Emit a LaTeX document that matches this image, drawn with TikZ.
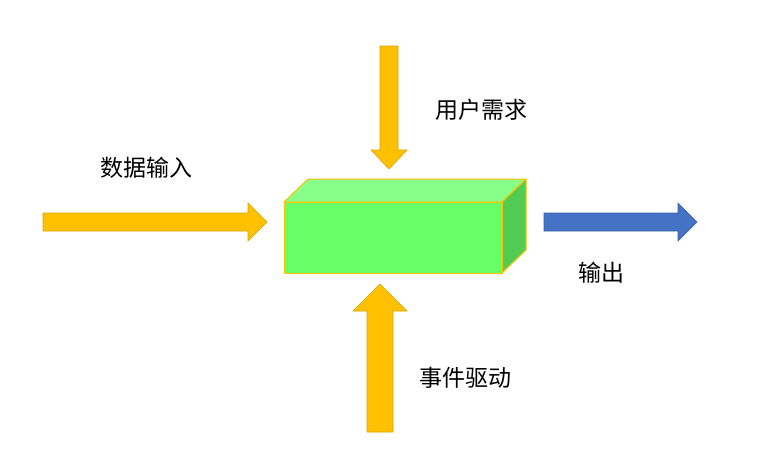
\documentclass[tikz,border=0pt]{standalone}
\usepackage{fontspec}
\newfontfamily\cjk{Noto Sans CJK SC}
\definecolor{arrowfill}{HTML}{FFC000}
\definecolor{arrowedge}{HTML}{D9A400}
\definecolor{bluefill}{HTML}{4472C4}
\definecolor{blueedge}{HTML}{3A62A8}
\definecolor{frontc}{HTML}{66FF66}
\definecolor{topc}{HTML}{88FF88}
\definecolor{sidec}{HTML}{52CC52}
\definecolor{boxedge}{HTML}{FFC000}
\begin{document}
\begin{tikzpicture}[x=1pt,y=-1pt,
  blockarrow/.style={fill=arrowfill,draw=arrowedge,line width=0.6pt,line join=miter},
  bluearrow/.style={fill=bluefill,draw=blueedge,line width=0.6pt,line join=miter},
  face/.style={draw=boxedge,line width=1pt,line join=round},
  lbl/.style={font=\cjk\fontsize{23}{27}\selectfont,text=black,inner sep=0pt}]
\useasboundingbox (0,0) rectangle (779,455);
% box
\fill[white] (0,0) rectangle (779,455);
\draw[face,fill=topc] (284,202) -- (308,179) -- (526,179) -- (502,202) -- cycle;
\draw[face,fill=sidec] (502,202) -- (526,179) -- (526,250) -- (502,273) -- cycle;
\draw[face,fill=frontc] (284,202) rectangle (502,273);
% left arrow
\draw[blockarrow] (43,213) -- (248,213) -- (248,203) -- (267,222) -- (248,241) -- (248,231) -- (43,231) -- cycle;
% top arrow
\draw[blockarrow] (380,46) -- (398,46) -- (398,150) -- (407,150) -- (389,169) -- (371,150) -- (380,150) -- cycle;
% bottom arrow
\draw[blockarrow] (367,432) -- (393,432) -- (393,311) -- (407,311) -- (380,284) -- (353,311) -- (367,311) -- cycle;
% output arrow
\draw[bluearrow] (544,213) -- (678,213) -- (678,203) -- (697,222) -- (678,241) -- (678,231) -- (544,231) -- cycle;
% labels
\node[lbl] (data) at (146,168) {数据输入};
\node[lbl] (need) at (481,110) {用户需求};
\node[lbl] (out) at (601,273) {输出};
\node[lbl] (event) at (465,378) {事件驱动};
\end{tikzpicture}
\end{document}
